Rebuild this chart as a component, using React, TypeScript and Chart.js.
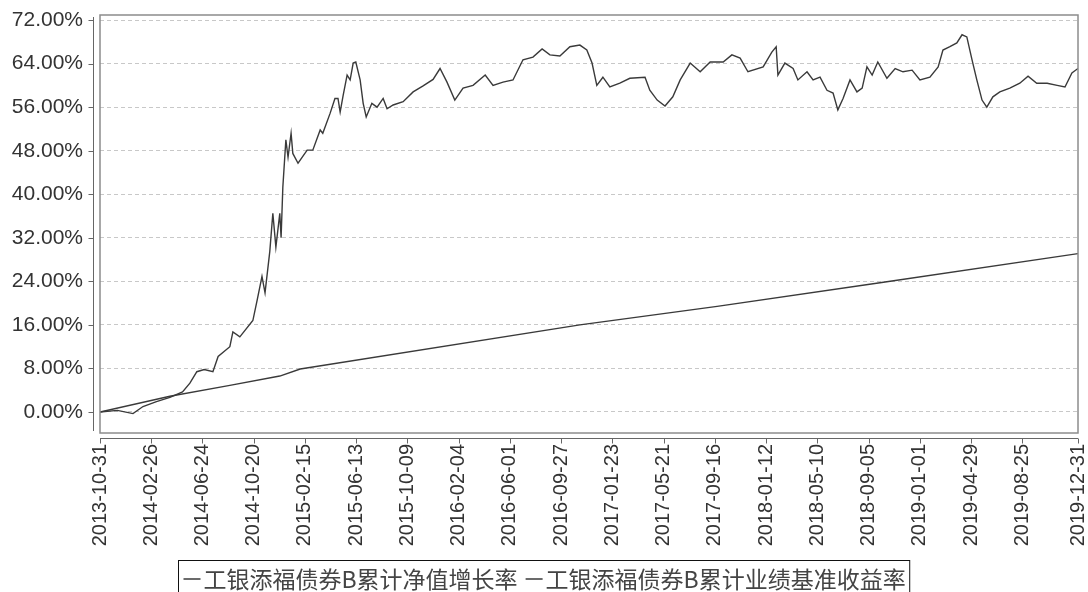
import React, { useEffect, useRef } from "react";
import { Chart, registerables } from "chart.js";

Chart.register(...registerables);

const START_DATE = "2013-10-31";

const tickLabels = [
  "2013-10-31", "2014-02-26", "2014-06-24", "2014-10-20", "2015-02-15",
  "2015-06-13", "2015-10-09", "2016-02-04", "2016-06-01", "2016-09-27",
  "2017-01-23", "2017-05-21", "2017-09-16", "2018-01-12", "2018-05-10",
  "2018-09-05", "2019-01-01", "2019-04-29", "2019-08-25", "2019-12-31",
];

const yTicks = [0, 8, 16, 24, 32, 40, 48, 56, 64, 72];

const seriesNames = ["工银添福债券B累计净值增长率", "工银添福债券B累计业绩基准收益率"];

// days since 2013-10-31
const navDays = [
  0, 40, 76, 99, 130, 161, 190, 207, 223, 240,
  260, 272, 299, 306, 322, 352, 362, 373, 380, 391,
  398, 405, 414, 417, 421, 428, 433, 440, 444, 456,
  477, 490, 507, 513, 530, 541, 548, 553, 560, 569,
  576, 583, 589, 599, 606, 613, 626, 638, 652, 661,
  675, 698, 721, 744, 767, 783, 799, 817, 836, 859,
  887, 905, 928, 951, 974, 997, 1018, 1036, 1059, 1082,
  1105, 1121, 1133, 1144, 1158, 1174, 1197, 1220, 1255, 1266,
  1283, 1301, 1319, 1336, 1359, 1382, 1405, 1435, 1455, 1474,
  1492, 1527, 1547, 1557, 1561, 1577, 1596, 1607, 1628, 1642,
  1658, 1674, 1688, 1699, 1711, 1727, 1743, 1755, 1766, 1778,
  1791, 1812, 1831, 1849, 1870, 1888, 1911, 1930, 1941, 1957,
  1973, 1985, 1996, 2008, 2019, 2031, 2042, 2056, 2072, 2095,
  2118, 2137, 2157, 2181, 2204, 2222, 2238, 2252,
];

// cumulative NAV growth, %
const navValues = [
  0, 0.3, -0.3, 1.0, 1.9, 2.7, 3.7, 5.3, 7.4, 7.8,
  7.4, 10.2, 12.0, 14.7, 13.8, 16.8, 20.6, 24.9, 21.9, 29.5,
  36.5, 30.3, 36.5, 32.0, 41.3, 50.0, 46.8, 51.2, 47.5, 45.7,
  48.1, 48.1, 51.8, 51.2, 54.9, 57.6, 57.6, 55.1, 58.2, 61.9,
  61.0, 64.1, 64.3, 61.0, 56.7, 54.2, 56.7, 56.0, 57.6, 55.7,
  56.4, 57.0, 58.8, 59.9, 61.1, 63.1, 60.6, 57.3, 59.5, 60.0,
  61.9, 60.0, 60.6, 61.0, 64.7, 65.2, 66.7, 65.6, 65.4, 67.1,
  67.4, 66.5, 64.1, 60.0, 61.5, 59.7, 60.4, 61.3, 61.5, 59.1,
  57.3, 56.2, 57.9, 61.0, 64.1, 62.5, 64.3, 64.3, 65.6, 65.0,
  62.5, 63.4, 66.1, 67.1, 61.9, 64.1, 63.1, 61.0, 62.5, 61.0,
  61.5, 59.1, 58.6, 55.5, 57.6, 61.0, 58.8, 59.5, 63.4, 61.9,
  64.3, 61.3, 63.1, 62.5, 62.8, 61.0, 61.5, 63.4, 66.5, 67.1,
  67.8, 69.3, 68.9, 64.7, 61.0, 57.3, 56.0, 57.9, 58.8, 59.5,
  60.4, 61.7, 60.4, 60.4, 60.0, 59.7, 62.3, 63.1,
];

const benchDays = [0, 161, 299, 414, 461, 1105, 1421, 1800, 2252];
const benchValues = [0, 2.9, 4.9, 6.6, 7.9, 16.0, 19.4, 23.8, 29.1];

const dayOffset = (d: string) =>
  Math.round((Date.parse(d) - Date.parse(START_DATE)) / 86400000);

const LATIN_FONT = "'Liberation Sans', Arial, sans-serif";
const CJK_FONT = "'Noto Sans CJK SC', 'Liberation Sans', sans-serif";
const TEXT_COLOR = "#333333";
const LINE_COLOR = "#3a3a3a";

const framePlugin = {
  id: "frameAndLegend",
  afterDatasetsDraw(chart: any) {
    const { ctx, chartArea: a, scales } = chart;
    ctx.save();
    ctx.strokeStyle = "#8c8c8c";
    ctx.lineWidth = 1.5;
    ctx.strokeRect(a.left, a.top, a.right - a.left, a.bottom - a.top);

    ctx.lineWidth = 1;
    ctx.strokeStyle = "#666666";
    ctx.beginPath();
    const yx = Math.round(a.left - 7) + 0.5;
    ctx.moveTo(yx, a.top + 2);
    ctx.lineTo(yx, a.bottom - 2);
    for (const t of scales.y.ticks) {
      const py = Math.round(scales.y.getPixelForValue(t.value)) + 0.5;
      ctx.moveTo(yx - 5, py);
      ctx.lineTo(yx, py);
    }
    const xy = Math.round(a.bottom + 5) + 0.5;
    ctx.moveTo(a.left, xy);
    ctx.lineTo(a.right, xy);
    for (const t of scales.x.ticks) {
      const px = Math.round(scales.x.getPixelForValue(t.value)) + 0.5;
      ctx.moveTo(px, xy);
      ctx.lineTo(px, xy + 5);
    }
    ctx.stroke();
    ctx.restore();
  },
  afterDraw(chart: any) {
    const { ctx, width } = chart;
    ctx.save();
    ctx.font = `23px ${CJK_FONT}`;
    ctx.textBaseline = "middle";
    const markW = 18;
    const gapAfterMark = 3;
    const gapItems = 7;
    const widths = seriesNames.map((n) => ctx.measureText(n).width);
    const total =
      widths.reduce((s, w) => s + w + markW + gapAfterMark, 0) + gapItems * (seriesNames.length - 1);
    const boxPad = 4;
    const boxLeft = Math.round((width - total) / 2 - boxPad) + 0.5;
    const boxTop = 560.5;
    ctx.strokeStyle = "#111111";
    ctx.lineWidth = 1;
    ctx.strokeRect(boxLeft, boxTop, total + boxPad * 2, 60);
    let x = boxLeft + boxPad;
    const cy = 579;
    seriesNames.forEach((name, i) => {
      ctx.strokeStyle = LINE_COLOR;
      ctx.lineWidth = 1.5;
      ctx.beginPath();
      ctx.moveTo(x + 1, cy);
      ctx.lineTo(x + markW, cy);
      ctx.stroke();
      x += markW + gapAfterMark;
      ctx.fillStyle = "#444444";
      ctx.fillText(name, x, cy);
      x += widths[i] + gapItems;
    });
    ctx.restore();
  },
};

export default function App() {
  const canvasRef = useRef<HTMLCanvasElement | null>(null);

  useEffect(() => {
    const canvas = canvasRef.current;
    if (!canvas) return;
    const chart = new Chart(canvas, {
      type: "line",
      data: {
        datasets: [
          {
            label: seriesNames[0],
            data: navDays.map((d, i) => ({ x: d, y: navValues[i] })),
            borderColor: LINE_COLOR,
            borderWidth: 1.4,
            pointRadius: 0,
            tension: 0,
            fill: false,
          },
          {
            label: seriesNames[1],
            data: benchDays.map((d, i) => ({ x: d, y: benchValues[i] })),
            borderColor: LINE_COLOR,
            borderWidth: 1.4,
            pointRadius: 0,
            tension: 0,
            fill: false,
          },
        ],
      },
      options: {
        animation: false,
        responsive: false,
        layout: { padding: { top: 15, right: 10, left: 0, bottom: 0 } },
        plugins: {
          legend: { display: false },
          tooltip: { enabled: false },
          title: { display: false },
        },
        scales: {
          x: {
            type: "linear",
            min: 0,
            max: dayOffset(tickLabels[tickLabels.length - 1]),
            afterBuildTicks: (s: any) => {
              s.ticks = tickLabels.map((d) => ({ value: dayOffset(d) }));
            },
            afterFit: (s: any) => {
              s.height = 592 - 433;
              s.paddingLeft = 0;
              s.paddingRight = 0;
            },
            ticks: {
              autoSkip: false,
              minRotation: 90,
              maxRotation: 90,
              padding: 11,
              color: TEXT_COLOR,
              font: { family: LATIN_FONT, size: 20 },
              callback: (_v: any, i: number) => tickLabels[i],
            },
            grid: { display: false, drawTicks: false },
            border: { display: false },
          },
          y: {
            type: "linear",
            min: -3.86,
            max: 72.93,
            afterBuildTicks: (s: any) => {
              s.ticks = yTicks.map((v) => ({ value: v }));
            },
            afterFit: (s: any) => {
              s.width = 100;
              s.paddingTop = 0;
              s.paddingBottom = 0;
            },
            ticks: {
              padding: 17,
              color: TEXT_COLOR,
              font: { family: LATIN_FONT, size: 21 },
              callback: (v: any) => Number(v).toFixed(2) + "%",
            },
            grid: { color: "#c8c8c8", lineWidth: 1, drawTicks: false },
            border: { display: false, dash: [4, 3] },
          },
        },
      },
      plugins: [framePlugin],
    });
    return () => chart.destroy();
  }, []);

  return (
    <div style={{ position: "absolute", left: 0, top: 0, width: 1088, height: 592, background: "#ffffff" }}>
      <canvas ref={canvasRef} width={1088} height={592} style={{ display: "block", width: 1088, height: 592 }} />
    </div>
  );
}
